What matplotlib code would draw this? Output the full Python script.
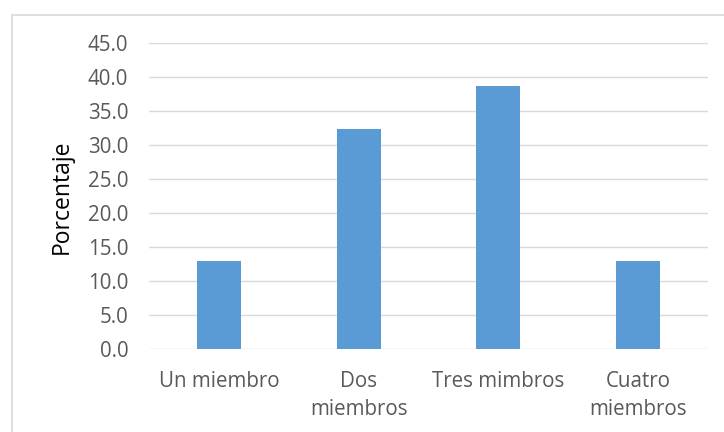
import numpy as np
import matplotlib
matplotlib.use("Agg")
import matplotlib.pyplot as plt
from matplotlib.patches import Rectangle

categories = ["Un miembro", "Dos\nmiembros", "Tres mimbros", "Cuatro\nmiembros"]
values = [12.9, 32.3, 38.7, 12.9]
yticks = [0, 5, 10, 15, 20, 25, 30, 35, 40, 45]

plt.rcParams["font.family"] = ["Open Sans", "DejaVu Sans"]

W, H = 724, 432
fig = plt.figure(figsize=(W / 100, H / 100), dpi=100)
fig.patch.set_facecolor("white")

ax = fig.add_axes([149 / W, 1 - 349 / H, (708 - 149) / W, (349 - 43) / H])

x = np.arange(len(categories))
ax.bar(x, values, width=0.315, color="#5B9BD5", zorder=3)

ax.set_xlim(-0.5, len(categories) - 0.5)
ax.set_ylim(0, 45)
ax.set_yticks(yticks)
ax.set_yticklabels([f"{v:.1f}" for v in yticks])
ax.set_xticks(x)
ax.set_xticklabels(categories, linespacing=1.45)

ax.grid(axis="y", color="#d9d9d9", linewidth=1.0, zorder=0)
ax.set_axisbelow(True)
for s in ax.spines.values():
    s.set_visible(False)

ax.tick_params(axis="both", length=0, labelsize=14.8, colors="#595959")
ax.tick_params(axis="y", pad=15)
ax.tick_params(axis="x", pad=16)

fig.text(62 / W, 1 - 197 / H, "Porcentaje", rotation=90, ha="center", va="center",
         fontsize=16.5, color="#000000")

# chart area border
fig.patches.append(Rectangle((11.5 / W, -0.1), 1.2, 1 - 14.5 / H + 0.1,
                             transform=fig.transFigure, fill=False,
                             edgecolor="#d9d9d9", linewidth=1.2))

fig.savefig("out.png", dpi=100, facecolor="white")
